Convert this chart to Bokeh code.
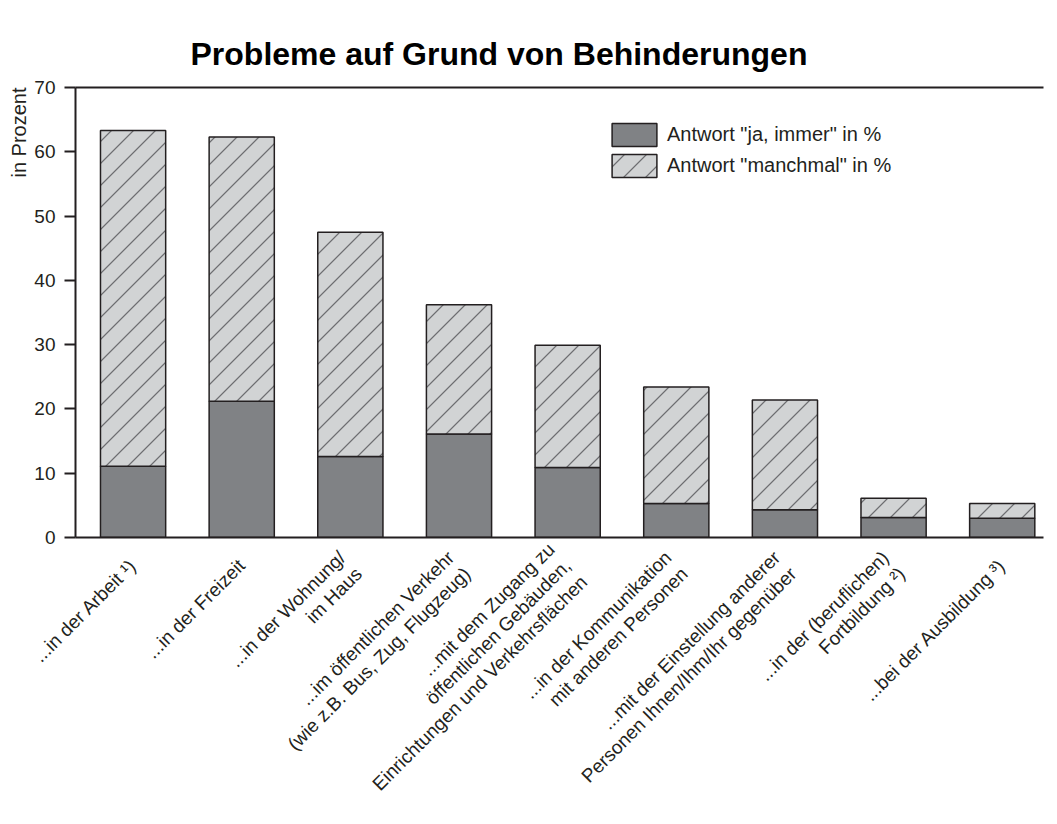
from math import pi, sqrt
import zlib, struct, base64
from bokeh.plotting import figure
from bokeh.core.properties import value
from bokeh.models import (ColumnDataSource, Range1d, LinearAxis, SingleIntervalTicker,
                          FixedTicker, Title, Legend, LegendItem, ImageURLTexture)
from bokeh.embed import file_html
from bokeh.resources import INLINE

# ---- data ----
categories = [
    "...in der Arbeit \u00b9)",
    "...in der Freizeit",
    "...in der Wohnung/\nim Haus",
    "...im \u00f6ffentlichen Verkehr\n(wie z.B. Bus, Zug, Flugzeug)",
    "...mit dem Zugang zu\n\u00f6ffentlichen Geb\u00e4uden,\nEinrichtungen und Verkehrsfl\u00e4chen",
    "...in der Kommunikation\nmit anderen Personen",
    "...mit der Einstellung anderer\nPersonen Ihnen/Ihm/Ihr gegen\u00fcber",
    "...in der (beruflichen)\nFortbildung \u00b2)",
    "...bei der Ausbildung \u00b3)",
]
ja_immer = [11.1, 21.2, 12.6, 16.1, 10.9, 5.3, 4.3, 3.1, 3.0]
manchmal = [52.2, 41.1, 34.9, 20.1, 19.0, 18.1, 17.1, 3.0, 2.3]
series_labels = ['Antwort "ja, immer" in %', 'Antwort "manchmal" in %']
title_text = "Probleme auf Grund von Behinderungen"
y_label = "in Prozent"

FONT = "Liberation Sans"
DARK = "#231f20"


# ---- 45 degree hatch tile (transparent PNG) ----
def hatch_png(size=22, rgb=(0x6d, 0x6e, 0x71)):
    rows = []
    for y in range(size):
        row = bytearray([0])
        for x in range(size):
            s = (x + y + 1) % size
            d = min(s, size - s) / sqrt(2)
            a = max(0.0, min(1.0, 1.0 - (d - 0.25) / 0.75))
            row += bytes([rgb[0], rgb[1], rgb[2], int(round(a * 255))])
        rows.append(bytes(row))
    raw = b"".join(rows)

    def chunk(tag, data):
        c = struct.pack(">I", len(data)) + tag + data
        return c + struct.pack(">I", zlib.crc32(tag + data) & 0xFFFFFFFF)

    png = b"\x89PNG\r\n\x1a\n"
    png += chunk(b"IHDR", struct.pack(">IIBBBBB", size, size, 8, 6, 0, 0, 0))
    png += chunk(b"IDAT", zlib.compress(raw, 9))
    png += chunk(b"IEND", b"")
    return "data:image/png;base64," + base64.b64encode(png).decode("ascii")


xs = list(range(len(categories)))
totals = [a + b for a, b in zip(ja_immer, manchmal)]
src = ColumnDataSource(dict(x=xs, immer=ja_immer, total=totals))

p = figure(width=1050, height=822, output_backend="svg", toolbar_location=None,
           x_range=Range1d(-0.53, 8.38), y_range=Range1d(0, 70),
           min_border_left=75, min_border_right=7, min_border_top=87,
           min_border_bottom=285, x_axis_type=None, y_axis_type=None)
p.outline_line_color = None
p.background_fill_color = "white"
p.border_fill_color = "white"

# title
p.title.text = title_text
p.title.align = "left"
p.title.offset = 115
p.title.standoff = 32
p.title.text_font = FONT
p.title.text_font_size = "32px"
p.title.text_font_style = "bold"
p.title.text_color = "black"

# y axis (left)
yax = LinearAxis(ticker=SingleIntervalTicker(interval=10))
yax.axis_line_color = DARK
yax.axis_line_width = 2
yax.major_tick_line_color = DARK
yax.major_tick_line_width = 2
yax.major_tick_out = 11
yax.major_tick_in = 0
yax.minor_tick_line_color = None
yax.major_label_standoff = 9
yax.major_label_text_font = FONT
yax.major_label_text_font_size = "19px"
yax.major_label_text_color = DARK
p.add_layout(yax, "left")

# y axis title, at the top end of the axis
p.add_layout(Title(text=y_label, align="right", offset=0, standoff=4,
                   text_font=FONT, text_font_size="20px", text_font_style="normal",
                   text_color=DARK), "left")

# bottom axis with the category labels
xax = LinearAxis(ticker=FixedTicker(ticks=xs))
xax.major_label_overrides = {i: c for i, c in zip(xs, categories)}
xax.major_label_orientation = pi / 4
xax.axis_line_color = DARK
xax.axis_line_width = 2
xax.major_tick_line_color = None
xax.major_tick_out = 0
xax.major_tick_in = 0
xax.minor_tick_line_color = None
xax.major_label_standoff = 25
xax.major_label_text_font = FONT
xax.major_label_text_font_size = "19px"
xax.major_label_text_line_height = 1.1
xax.major_label_text_color = DARK
p.add_layout(xax, "below")

# top frame line
tax = LinearAxis(ticker=FixedTicker(ticks=[]))
tax.axis_line_color = DARK
tax.axis_line_width = 2
tax.major_tick_line_color = None
tax.minor_tick_line_color = None
p.add_layout(tax, "above")

p.ygrid.ticker = SingleIntervalTicker(interval=10)
p.ygrid.grid_line_color = "#a7a9ac"
p.ygrid.grid_line_width = 1.5
p.xgrid.grid_line_color = None

hatch45 = ImageURLTexture(url=hatch_png(), repetition="repeat")

r1 = p.vbar(x="x", width=0.6, bottom=0, top="immer", source=src,
            fill_color="#808285", line_color=DARK, line_width=1.5)
r2 = p.vbar(x="x", width=0.6, bottom="immer", top="total", source=src,
            fill_color="#d1d3d4", line_color=DARK, line_width=1.5,
            hatch_extra={"diag45": hatch45}, hatch_pattern=value("diag45"))

legend = Legend(items=[LegendItem(label=series_labels[0], renderers=[r1]),
                       LegendItem(label=series_labels[1], renderers=[r2])],
                location=(531, 357), glyph_width=56, glyph_height=29,
                label_text_font=FONT, label_text_font_size="20px", label_text_color=DARK,
                padding=13, spacing=2, label_standoff=5, margin=0,
                border_line_color=None, background_fill_color="white",
                background_fill_alpha=1.0)
p.add_layout(legend)

open("out.html", "w").write(file_html(p, INLINE))
